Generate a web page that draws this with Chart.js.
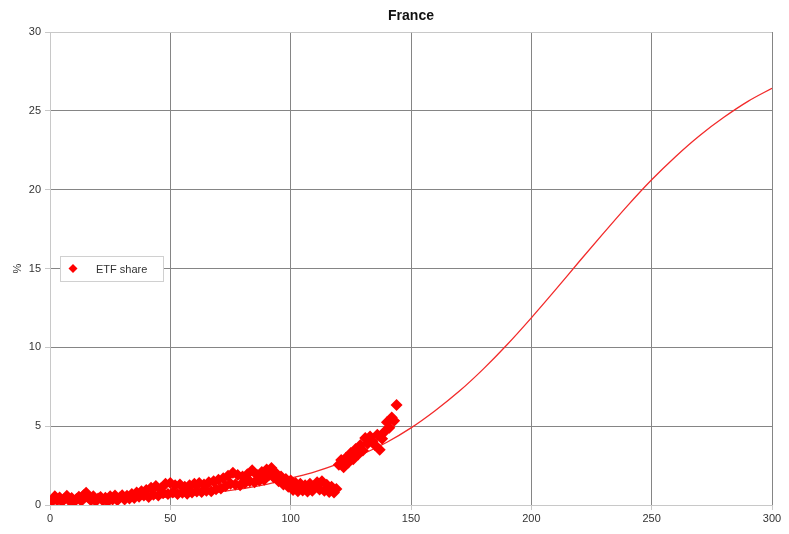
<!DOCTYPE html>
<html>
<head>
<meta charset="utf-8">
<script src="https://cdn.jsdelivr.net/npm/chart.js@4/dist/chart.umd.min.js"></script>
<style>
  html, body { margin: 0; padding: 0; background: #ffffff; }
  #wrap { width: 789px; height: 534px; }
</style>
</head>
<body>
<div id="wrap"><canvas id="c" width="789" height="534"></canvas></div>
<script>
// Chart title and labels
const chartTitle = "France";
const yAxisLabel = "%";
const seriesName = "ETF share";

// Axis ticks
const xTicks = [0, 50, 100, 150, 200, 250, 300];
const yTicks = [0, 5, 10, 15, 20, 25, 30];

// Observed ETF share (x = period index, y = %)
const shareX = [
  1,2,3,4,5,6,7,8,9,10,
  11,12,13,14,15,16,17,18,19,20,
  21,22,23,24,25,26,27,28,29,30,
  31,32,33,34,35,36,37,38,39,40,
  41,42,43,44,45,46,47,48,49,50,
  51,52,53,54,55,56,57,58,59,60,
  61,62,63,64,65,66,67,68,69,70,
  71,72,73,74,75,76,77,78,79,80,
  81,82,83,84,85,86,87,88,89,90,
  91,92,93,94,95,96,97,98,99,100,
  101,102,103,104,105,106,107,108,109,110,
  111,112,113,114,115,116,117,118,119,
  120,121,122,123,124,125,126,127,128,129,
  130,131,132,133,134,135,136,137,138,139,
  140,141,142,143,144
];
const shareY = [
  0.25,0.55,0.30,0.48,0.22,0.40,0.58,0.28,0.45,0.20,
  0.38,0.52,0.26,0.62,0.78,0.48,0.30,0.55,0.24,0.42,
  0.50,0.28,0.46,0.22,0.55,0.35,0.60,0.30,0.48,0.62,
  0.35,0.58,0.42,0.70,0.45,0.80,0.52,0.88,0.60,0.95,
  0.50,1.10,0.65,1.20,0.60,1.05,0.75,1.35,0.70,1.40,
  0.80,1.25,0.70,1.30,0.78,1.15,0.72,1.25,0.80,1.35,
  0.85,1.40,0.82,1.30,0.90,1.45,0.88,1.50,1.00,1.60,
  1.05,1.70,1.20,1.85,1.35,2.05,1.30,1.90,1.25,1.80,
  1.40,1.95,1.50,2.20,1.45,1.90,1.55,2.10,1.60,2.25,
  1.90,2.35,1.75,2.00,1.50,1.80,1.30,1.65,1.15,1.55,
  0.95,1.40,0.88,1.35,0.92,1.25,0.85,1.35,0.90,1.20,
  1.45,0.98,1.50,0.90,1.28,0.82,1.15,0.80,1.02,
  2.55,2.85,2.40,3.00,2.70,3.30,2.90,3.55,3.20,3.80,
  3.45,4.25,3.90,4.35,4.05,3.80,4.45,3.50,4.20,4.65,
  5.25,4.90,5.55,5.35,6.35
];

// Fitted diffusion curve
const fitX = [0,10,20,30,40,50,60,70,80,90,100,110,120,130,140,150,
              160,170,180,190,200,210,220,230,240,250,260,270,280,290,300];
const fitY = [0.16,0.20,0.25,0.32,0.40,0.51,0.65,0.82,1.04,1.31,1.70,2.10,2.62,3.24,3.98,4.89,
              5.98,7.21,8.62,10.18,11.87,13.64,15.46,17.24,18.99,20.63,22.11,23.44,24.59,25.60,26.43];

const sharePoints = shareX.map((x, i) => ({ x: x, y: shareY[i] }));
const fitPoints = fitX.map((x, i) => ({ x: x, y: fitY[i] }));

const RED = "#ff0000";
const LINE_RED = "#f22a2a";
const GRID = "#858585";
const FRAME = "#c8c8c8";
const TEXT = "#333333";
const FONT = "'Liberation Sans', Arial, sans-serif";

// Draws the title, the y-axis unit and the boxed legend
const decorations = {
  id: "decorations",
  afterDraw(chart) {
    const ctx = chart.ctx;
    const area = chart.chartArea;
    const ys = chart.scales.y;
    ctx.save();
    ctx.fillStyle = "#111111";
    ctx.font = "bold 14px " + FONT;
    ctx.textAlign = "center";
    ctx.textBaseline = "middle";
    ctx.fillText(chartTitle, (area.left + area.right) / 2, 16);

    // y-axis unit
    ctx.save();
    ctx.translate(18, (area.top + area.bottom) / 2);
    ctx.rotate(-Math.PI / 2);
    ctx.fillStyle = TEXT;
    ctx.font = "11px " + FONT;
    ctx.fillText(yAxisLabel, 0, 0);
    ctx.restore();

    // Legend box
    const cy = ys.getPixelForValue(15);
    const bx = area.left + 10, bw = 103, bh = 25;
    const by = cy - bh / 2;
    ctx.fillStyle = "#ffffff";
    ctx.fillRect(bx, by, bw, bh);
    ctx.strokeStyle = "#d0d0d0";
    ctx.lineWidth = 1;
    ctx.strokeRect(bx + 0.5, by + 0.5, bw, bh);
    const mx = bx + 13, r = 4.5;
    ctx.fillStyle = RED;
    ctx.beginPath();
    ctx.moveTo(mx, cy - r);
    ctx.lineTo(mx + r, cy);
    ctx.lineTo(mx, cy + r);
    ctx.lineTo(mx - r, cy);
    ctx.closePath();
    ctx.fill();
    ctx.fillStyle = TEXT;
    ctx.font = "11px " + FONT;
    ctx.textAlign = "left";
    ctx.fillText(seriesName, bx + 36, cy + 1);
    ctx.restore();
  }
};

new Chart(document.getElementById("c"), {
  type: "scatter",
  data: {
    datasets: [
      {
        label: "fit",
        data: fitPoints,
        showLine: true,
        borderColor: LINE_RED,
        borderWidth: 1.3,
        pointRadius: 0,
        cubicInterpolationMode: "monotone",
        order: 2
      },
      {
        label: seriesName,
        data: sharePoints,
        showLine: false,
        backgroundColor: RED,
        borderColor: RED,
        borderWidth: 0,
        pointStyle: "rectRot",
        pointRadius: 6,
        order: 1
      }
    ]
  },
  options: {
    responsive: false,
    animation: false,
    layout: { padding: { left: 0, right: 17, top: 32, bottom: 0 } },
    plugins: {
      legend: { display: false },
      title: { display: false },
      tooltip: { enabled: false }
    },
    scales: {
      x: {
        type: "linear",
        min: xTicks[0],
        max: xTicks[xTicks.length - 1],
        afterBuildTicks: (s) => { s.ticks = xTicks.map(v => ({ value: v })); },
        afterFit: (s) => { s.height = 29; },
        grid: {
          color: (c) => (c.tick && (c.tick.value === 0) ? FRAME : GRID),
          lineWidth: 1,
          drawTicks: true,
          tickLength: 5,
          tickColor: FRAME
        },
        border: { display: true, color: FRAME },
        ticks: { color: TEXT, font: { family: FONT, size: 11 }, padding: 2, maxRotation: 0 }
      },
      y: {
        type: "linear",
        min: yTicks[0],
        max: yTicks[yTicks.length - 1],
        afterBuildTicks: (s) => { s.ticks = yTicks.map(v => ({ value: v })); },
        afterFit: (s) => { s.width = 50; },
        grid: {
          color: (c) => (c.tick && (c.tick.value === 0 || c.tick.value === 30) ? FRAME : GRID),
          lineWidth: 1,
          drawTicks: true,
          tickLength: 5,
          tickColor: FRAME
        },
        border: { display: true, color: FRAME },
        ticks: { color: TEXT, font: { family: FONT, size: 11 }, padding: 4 }
      }
    }
  },
  plugins: [decorations]
});
</script>
</body>
</html>
